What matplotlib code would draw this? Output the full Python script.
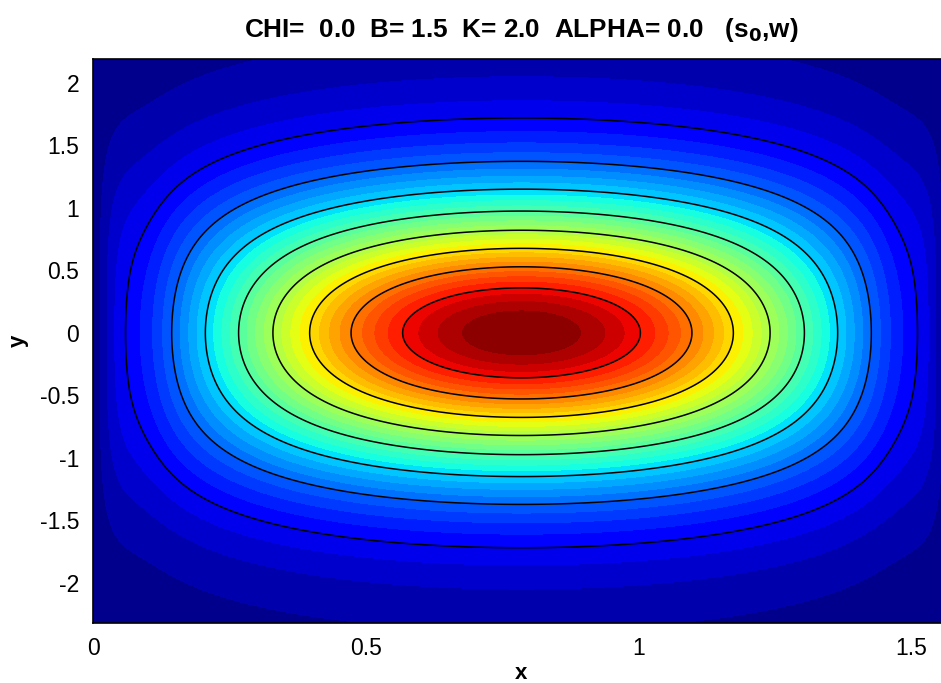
import numpy as np
import matplotlib
matplotlib.use("Agg")
import matplotlib.pyplot as plt

plt.rcParams['axes.unicode_minus'] = False

# ---- values ----
title_text = "CHI=  0.0  B= 1.5  K= 2.0  ALPHA= 0.0   (s$_\\mathbf{0}$,w)"
x_range = [0.0, np.pi / 2]
y_range = [-2.32, 2.19]
x_ticks = [0, 0.5, 1, 1.5]
x_ticklabels = ["0", "0.5", "1", "1.5"]
y_ticks = [-2, -1.5, -1, -0.5, 0, 0.5, 1, 1.5, 2]
y_ticklabels = ["-2", "-1.5", "-1", "-0.5", "0", "0.5", "1", "1.5", "2"]
n_line_levels = 9          # black lines at k/9 of the peak
n_fill_levels = 36         # filled colour bands
x_shape = [1.2, 1.15, 0.12]        # core exponent, edge boost, edge width
y_decay = [0.92, 0.08]             # y-profile: rate, tail softening
x_flatten = [0.58, 0.42, 1.2]      # how the x-profile flattens away from y=0

# ---- field ----
xg = np.linspace(x_range[0], x_range[1], 260)
yg = np.linspace(y_range[0], y_range[1], 340)
X, Y = np.meshgrid(xg, yg)
f = np.clip(np.sin(2 * X), 0, None)
F = f ** x_shape[0] * (1 + x_shape[1] * np.exp(-(f / x_shape[2]) ** 2))
r = x_flatten[0] + x_flatten[1] * np.exp(-(Y / x_flatten[2]) ** 2)
G = np.exp(-y_decay[0] * Y ** 2 / (1 + y_decay[1] * Y ** 2))
W = G * F ** r

fig = plt.figure(figsize=(9.41, 6.83), dpi=100)
L, R, T, B = 93, 950, 59, 623
ax = fig.add_axes([L / 941, (683 - B) / 683, (R - L) / 941, (B - T) / 683])

fill_levels = np.linspace(0, 1.0, n_fill_levels + 1)
ax.contourf(X, Y, W, levels=fill_levels, cmap='jet', vmin=0, vmax=1)
line_levels = np.arange(1, n_line_levels) / n_line_levels
ax.contour(X, Y, W, levels=line_levels, colors='black', linewidths=1.1)

ax.set_xlim(x_range)
ax.set_ylim(y_range)
ax.set_xticks(x_ticks)
ax.set_xticklabels(x_ticklabels)
ax.set_yticks(y_ticks)
ax.set_yticklabels(y_ticklabels)
ax.tick_params(length=0, labelsize=16.5, pad=10)
for lab in ax.get_xticklabels() + ax.get_yticklabels():
    lab.set_family(['Liberation Sans', 'DejaVu Sans'])
for sp in ax.spines.values():
    sp.set_linewidth(1.2)

ax.set_xlabel("x", fontsize=16, fontweight='bold', family=['Liberation Sans', 'DejaVu Sans'], labelpad=2)
ax.set_ylabel("y", fontsize=16, fontweight='bold', family=['Liberation Sans', 'DejaVu Sans'], labelpad=8)
fig.text((L + R) / 2 / 941, 1 - 30 / 683, title_text, ha='center', va='center',
         fontsize=18.8, fontweight='bold', family=['Liberation Sans', 'DejaVu Sans'])

fig.savefig("out.png", dpi=100)
